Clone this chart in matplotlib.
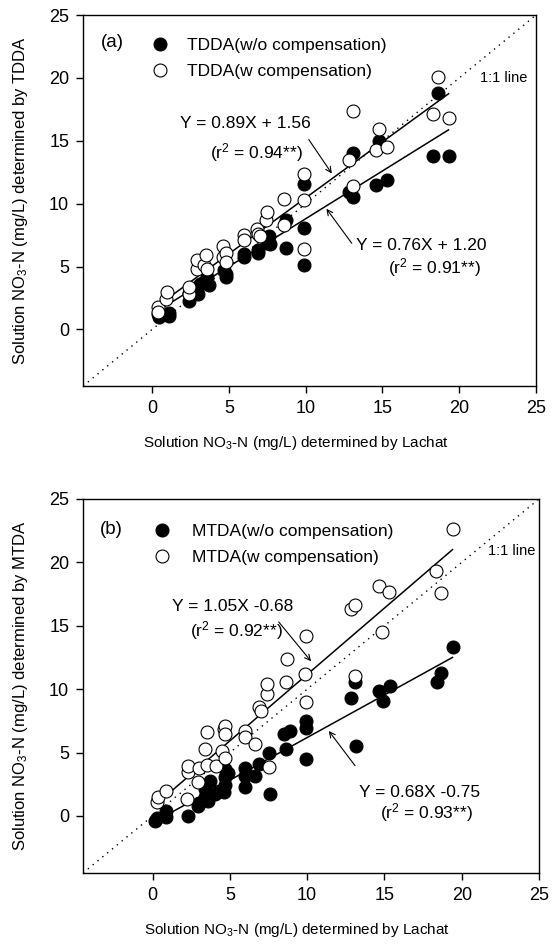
import matplotlib
matplotlib.use("Agg")
import matplotlib.pyplot as plt

# Fonts: narrow Arial-like face if present, otherwise regular
plt.rcParams["font.family"] = ["Liberation Sans Narrow", "Liberation Sans", "DejaVu Sans"]
plt.rcParams["mathtext.default"] = "regular"

# ---- Panel (a): TDDA vs Lachat ----
a_wo_x = [0.4, 0.45, 1.1, 1.1, 2.4, 2.4, 3.0, 3.1, 3.4, 3.6, 3.7, 4.7, 4.8, 4.8, 6.0, 6.0,
          6.9, 6.9, 7.5, 7.6, 7.7, 8.7, 8.7, 9.9, 9.9, 9.9, 12.8, 13.05, 13.1, 14.6, 14.8,
          15.3, 18.3, 18.6, 19.35]
a_wo_y = [1.25, 1.0, 1.1, 1.3, 2.3, 2.9, 2.8, 3.6, 3.8, 4.2, 3.5, 4.7, 4.2, 4.4, 5.8, 6.0,
          6.1, 6.3, 6.9, 7.4, 6.8, 8.7, 6.5, 11.6, 8.1, 5.1, 10.9, 10.5, 14.0, 11.5, 15.0,
          11.9, 13.8, 18.8, 13.8]
a_w_x = [0.4, 0.4, 0.9, 1.0, 2.4, 2.4, 2.9, 2.9, 3.4, 3.5, 3.6, 4.6, 4.6, 4.8, 4.8, 6.0,
         6.0, 6.8, 6.9, 7.0, 7.4, 7.5, 8.6, 8.6, 9.9, 9.9, 9.9, 12.8, 13.1, 13.1, 14.6,
         14.8, 15.3, 18.3, 18.6, 19.35]
a_w_y = [1.8, 1.4, 2.4, 3.0, 2.8, 3.4, 4.8, 5.5, 5.1, 5.9, 4.8, 6.6, 5.8, 6.1, 5.4, 7.5,
         7.1, 8.0, 7.6, 7.4, 8.7, 9.3, 10.4, 8.3, 12.4, 10.3, 6.4, 13.5, 11.4, 17.4, 14.3,
         15.9, 14.5, 17.1, 20.1, 16.8]
# regression lines as drawn (end points)
a_fit_wo_x = [0.6, 19.3]
a_fit_wo_y = [1.66, 15.87]
a_fit_w_x = [0.4, 19.3]
a_fit_w_y = [1.92, 18.74]

# ---- Panel (b): MTDA vs Lachat ----
b_wo_x = [0.16, 0.3, 0.9, 0.9, 2.32, 2.97, 3.0, 3.4, 3.4, 3.6, 3.73, 4.05, 4.3, 4.6, 4.7,
          4.7, 4.7, 4.9, 6.0, 6.0, 6.0, 6.65, 6.86, 7.51, 7.62, 8.6, 8.49, 8.9, 9.9, 9.9,
          9.9, 12.82, 13.1, 13.14, 14.66, 14.92, 15.35, 18.38, 18.66, 19.46]
b_wo_y = [-0.37, -0.2, 0.42, -0.05, 0.02, 0.81, 1.0, 1.47, 2.1, 1.2, 2.78, 1.73, 2.0, 1.86,
          2.4, 3.06, 3.7, 3.4, 2.26, 3.17, 3.8, 3.17, 4.1, 5.0, 1.73, 5.27, 6.46, 6.7, 4.49,
          6.9, 7.5, 9.27, 10.6, 5.5, 9.87, 9.08, 10.26, 10.6, 11.3, 13.3]
b_w_x = [0.3, 0.37, 0.9, 2.2, 2.32, 2.32, 2.97, 3.0, 3.4, 3.5, 3.5, 4.1, 4.48, 4.6, 4.7,
         4.7, 4.7, 6.0, 6.0, 6.65, 6.86, 7.0, 7.4, 7.4, 7.51, 8.6, 8.7, 9.9, 9.85, 9.9,
         12.82, 13.1, 13.1, 14.66, 14.87, 15.3, 18.34, 18.66, 19.46]
b_w_y = [1.1, 1.47, 2.0, 1.34, 3.5, 3.96, 2.65, 3.8, 5.27, 6.6, 4.05, 3.9, 5.15, 6.85, 7.1,
         6.5, 4.6, 6.7, 6.2, 5.67, 8.56, 8.3, 9.6, 10.4, 3.83, 10.6, 12.36, 8.95, 11.2, 14.2,
         16.3, 16.6, 11.05, 18.1, 14.5, 17.7, 19.3, 17.6, 22.6]
b_fit_wo_x = [0.8, 19.4]
b_fit_wo_y = [0.0, 12.5]
b_fit_w_x = [0.3, 19.4]
b_fit_w_y = [1.0, 21.0]

ticks = [0, 5, 10, 15, 20, 25]


def panel(ax, tag, name, wo, w, fit_wo, fit_w, eq_w, eq_wo, lbl_pos, leg_anchor, leg_pad):
    ax.plot([-4.5, 25], [-4.5, 25], color="black", lw=1, ls=(0, (1, 3.5)))
    ax.plot(fit_wo[0], fit_wo[1], color="black", lw=1.1)
    ax.plot(fit_w[0], fit_w[1], color="black", lw=1.1)
    ax.plot(wo[0], wo[1], "o", ms=9.3, mfc="black", mec="black", mew=0.8, ls="none",
            label=name + "(w/o compensation)")
    ax.plot(w[0], w[1], "o", ms=9.3, mfc="white", mec="black", mew=0.8, ls="none",
            label=name + "(w compensation)")

    ax.set_xlim(-4.5, 25)
    ax.set_ylim(-4.5, 25)
    ax.set_xticks(ticks)
    ax.set_yticks(ticks)
    ax.tick_params(direction="out", length=5, width=1, labelsize=13, pad=5)
    for s in ax.spines.values():
        s.set_linewidth(1)

    ax.legend(loc="upper left", bbox_to_anchor=leg_anchor, frameon=False, fontsize=12.5,
              handlelength=1.0, handletextpad=leg_pad, labelspacing=0.62, borderpad=0,
              borderaxespad=0)
    ax.text(lbl_pos[0], lbl_pos[1], tag, fontsize=13.5, ha="center", va="center")
    ax.text(lbl_pos[2], lbl_pos[3], "1:1 line", fontsize=10.5, ha="center", va="center")

    for (t1, t2, p1, p2, tail, tip) in (eq_w, eq_wo):
        ax.text(p1[0], p1[1], t1, fontsize=12.5, ha="center", va="center")
        ax.text(p2[0], p2[1], t2, fontsize=12.5, ha="center", va="center")
        ax.annotate("", xy=tip, xytext=tail,
                    arrowprops=dict(arrowstyle="->", lw=0.8, color="black",
                                    shrinkA=0, shrinkB=0))

    ax.set_xlabel("Solution NO$_3$-N (mg/L) determined by Lachat", fontsize=11)
    ax.set_ylabel("Solution NO$_3$-N (mg/L) determined by " + name, fontsize=12)
    ax.xaxis.set_label_coords(0.47, -0.128)
    ax.yaxis.set_label_coords(-0.117, 0.5)


fig = plt.figure(figsize=(5.52, 9.52), dpi=100)
ax1 = fig.add_axes([0.1504, 0.5945, 0.8207, 0.3897])
ax2 = fig.add_axes([0.1504, 0.0830, 0.8261, 0.3929])

panel(ax1, "(a)", "TDDA", (a_wo_x, a_wo_y), (a_w_x, a_w_y),
      (a_fit_wo_x, a_fit_wo_y), (a_fit_w_x, a_fit_w_y),
      ("Y = 0.89X + 1.56", "(r$^2$ = 0.94**)", (6.05, 16.4), (6.8, 14.1),
       (10.2, 15.1), (11.7, 12.4)),
      ("Y = 0.76X + 1.20", "(r$^2$ = 0.91**)", (17.5, 6.7), (18.4, 4.9),
       (13.0, 6.85), (11.35, 9.6)),
      (-2.6, 22.85, 22.9, 20.0), (0.150, 0.939), 1.07)

panel(ax2, "(b)", "MTDA", (b_wo_x, b_wo_y), (b_w_x, b_w_y),
      (b_fit_wo_x, b_fit_wo_y), (b_fit_w_x, b_fit_w_y),
      ("Y = 1.05X -0.68", "(r$^2$ = 0.92**)", (5.2, 16.5), (5.4, 14.6),
       (8.16, 15.3), (10.25, 12.2)),
      ("Y = 0.68X -0.75", "(r$^2$ = 0.93**)", (17.3, 1.87), (17.7, 0.3),
       (13.1, 3.96), (11.4, 6.7)),
      (-2.7, 22.6, 23.2, 20.9), (0.154, 0.933), 1.24)

fig.savefig("out.png", dpi=100)
